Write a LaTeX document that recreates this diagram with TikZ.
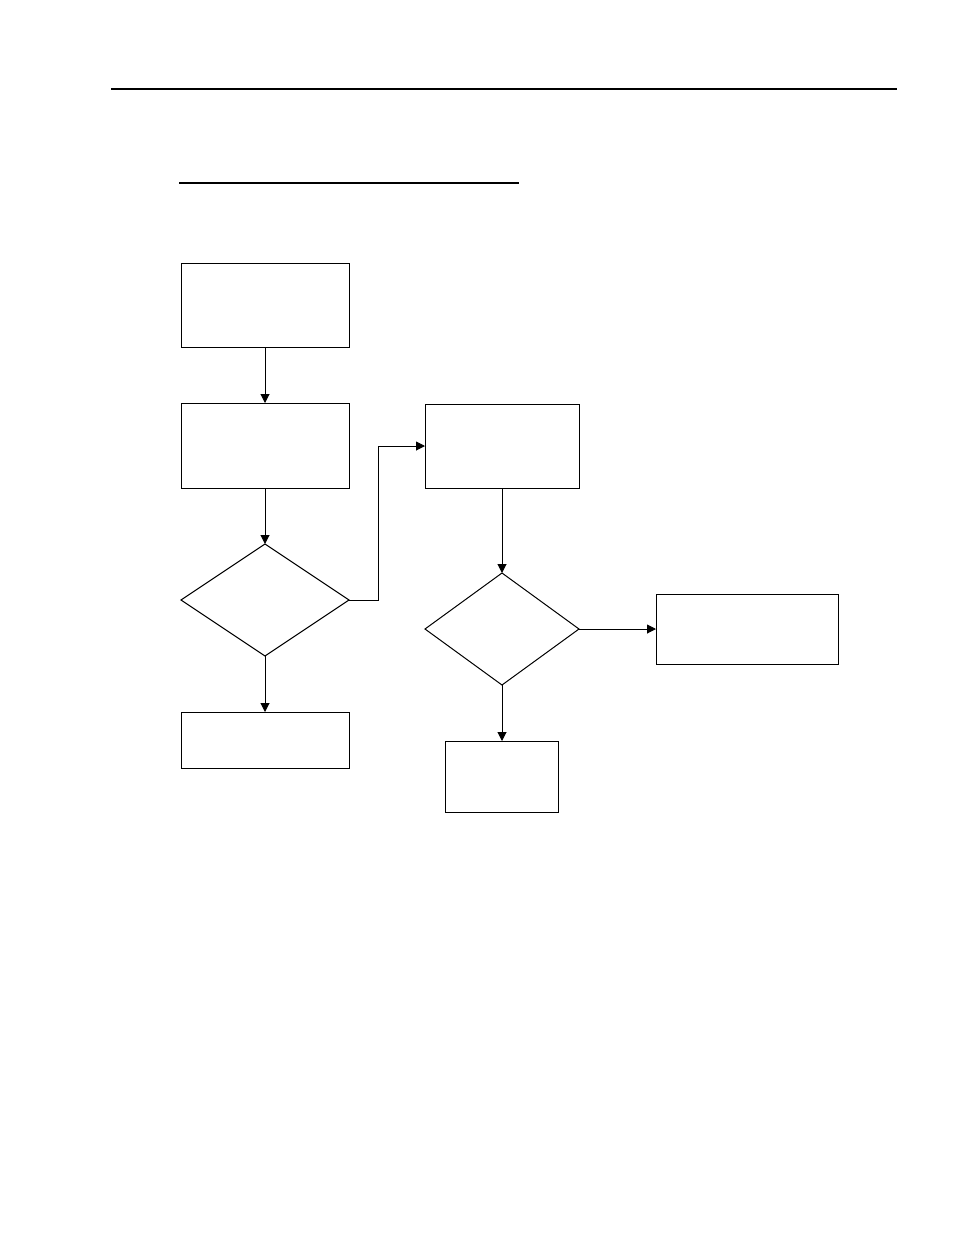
\documentclass[tikz,border=0pt]{standalone}
\usetikzlibrary{shapes.geometric, arrows.meta, positioning}

\begin{document}
\begin{tikzpicture}[x=1pt, y=-1pt,
    stepbox/.style={rectangle, draw=black, line width=1pt, inner sep=0pt, outer sep=0pt},
    choice/.style={diamond, draw=black, line width=1pt, inner sep=0pt, outer sep=0pt},
    flow/.style={-{Triangle[length=9pt, width=9pt]}, line width=1pt}
]
    \useasboundingbox (0,0) rectangle (954,1235);

    % rules at the top of the page
    \draw[line width=1.2pt] (111,89) -- (897,89);
    \draw[line width=1.2pt] (179,183) -- (519,183);

    \node[stepbox, minimum width=168pt, minimum height=84pt] (start) at (265,305) {};
    \node[stepbox, minimum width=168pt, minimum height=85pt, below=56pt of start] (prep) {};
    \node[choice, minimum width=168pt, minimum height=112pt, below=56pt of prep] (check1) {};
    \node[stepbox, minimum width=168pt, minimum height=56pt, below=56pt of check1] (stop1) {};

    \node[stepbox, minimum width=154pt, minimum height=84pt] (task) at (502,446) {};
    \node[choice, minimum width=154pt, minimum height=112pt, below=85pt of task] (check2) {};
    \node[stepbox, minimum width=113pt, minimum height=71pt, below=56pt of check2] (done) {};
    \node[stepbox, minimum width=182pt, minimum height=70pt, right=77pt of check2] (report) {};

    \draw[flow] (start) -- (prep);
    \draw[flow] (prep) -- (check1);
    \draw[flow] (check1) -- (stop1);
    \draw[flow] (check1.east) -- ++(29,0) |- (task.west);
    \draw[flow] (task) -- (check2);
    \draw[flow] (check2) -- (done);
    \draw[flow] (check2) -- (report);
\end{tikzpicture}
\end{document}
